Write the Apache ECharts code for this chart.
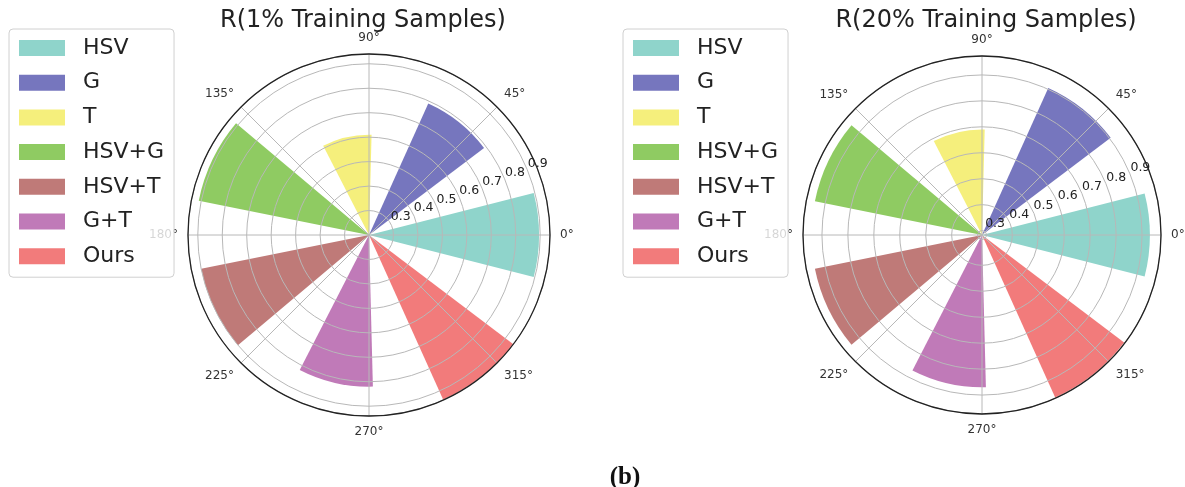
<!DOCTYPE html>
<html><head><meta charset="utf-8">
<script src="https://cdn.jsdelivr.net/npm/echarts@6/dist/echarts.min.js"></script>
<style>html,body{margin:0;padding:0;background:#fff}#c{width:1185px;height:487px}</style>
</head><body><div id="c"></div>
<script>
// ---- data ----
const methods = ['HSV', 'G', 'T', 'HSV+G', 'HSV+T', 'G+T', 'Ours'];
const colors = ['#8fd4cb', '#7676be', '#f5ef7c', '#8fcb62', '#bf7a78', '#c07ab8', '#f27b7b'];
const r1Values = [0.895, 0.79, 0.61, 0.91, 0.90, 0.82, 0.94];
const r20Values = [0.93, 0.905, 0.69, 0.94, 0.94, 0.87, 0.97];
const radialTicks = [0.3, 0.4, 0.5, 0.6, 0.7, 0.8, 0.9];
const angleTicks = [0, 45, 90, 135, 180, 225, 270, 315];
const titles = ['R(1% Training Samples)', 'R(20% Training Samples)'];
const rRange1 = [0.2, 0.94];
const rRange20 = [0.283, 0.973];

const FONT = 'DejaVu Sans';
const polar = [], angleAxis = [], radiusAxis = [], series = [], legend = [], title = [];

function panel(center, radius, range, values, titleText, titleX, legendX, key) {
  const base = polar.length;
  polar.push({ center: center, radius: radius });
  polar.push({ center: center, radius: radius });
  polar.push({ center: center, radius: [21, radius + 21] });
  // bars
  angleAxis.push({ polarIndex: base, type: 'category', data: methods, startAngle: 360 - 360 / 14,
    clockwise: false, boundaryGap: true,
    axisLine: { show: false }, axisTick: { show: false }, axisLabel: { show: false }, splitLine: { show: false } });
  radiusAxis.push({ polarIndex: base, type: 'value', min: range[0], max: range[1], startValue: range[0],
    axisLine: { show: false }, axisTick: { show: false }, axisLabel: { show: false }, splitLine: { show: false } });
  // grid
  angleAxis.push({ polarIndex: base + 1, type: 'value', min: 0, max: 360, interval: 45, startAngle: 0,
    clockwise: false, z: 5,
    axisLine: { lineStyle: { color: '#222', width: 1.3 } },
    axisTick: { show: false },
    axisLabel: { margin: 10, fontSize: 12, color: '#333', fontFamily: FONT,
      formatter: v => angleTicks.indexOf(v) >= 0 ? v + '°' : '' },
    splitLine: { show: true, lineStyle: { color: '#b8b8b8', width: 1 } } });
  radiusAxis.push({ polarIndex: base + 1, type: 'value', min: range[0], max: range[1],
    minInterval: 0.1, maxInterval: 0.1, z: 5,
    axisLine: { show: false }, axisTick: { show: false }, axisLabel: { show: false },
    splitLine: { show: true, lineStyle: { color: '#b8b8b8', width: 1 } } });
  // radial labels
  angleAxis.push({ polarIndex: base + 2, type: 'value', min: 0, max: 360, startAngle: 21,
    clockwise: false, show: false });
  radiusAxis.push({ polarIndex: base + 2, type: 'value', min: range[0], max: range[1],
    minInterval: 0.1, maxInterval: 0.1, z: 6,
    axisLine: { show: false }, axisTick: { show: false }, splitLine: { show: false },
    axisLabel: { show: true, margin: 2, fontSize: 12.5, color: '#222', fontFamily: FONT,
      showMinLabel: false, showMaxLabel: false,
      formatter: v => radialTicks.some(t => Math.abs(t - v) < 1e-6) ? v.toFixed(1) : '' } });
  methods.forEach((m, i) => {
    series.push({ type: 'bar', coordinateSystem: 'polar', polarIndex: base, name: m,
      stack: key, clip: false,
      data: methods.map((_, j) => j === i ? values[i] : '-'),
      barWidth: '55.7%', z: 2,
      itemStyle: { color: colors[i] } });
  });
  legend.push({ left: legendX, top: 29, orient: 'vertical', data: methods, icon: 'rect',
    itemWidth: 46, itemHeight: 16, itemGap: 12.7, padding: [8, 10, 10, 10],
    borderColor: '#d0d0d0', borderWidth: 1, borderRadius: 4,
    backgroundColor: 'rgba(255,255,255,0.8)', selectedMode: false, z: 10,
    textStyle: { fontSize: 22, fontFamily: FONT, color: '#222', lineHeight: 22, padding: [0, 0, 0, 13] } });
  title.push({ text: titleText, left: titleX, top: 4, textAlign: 'center',
    textStyle: { fontSize: 24, fontWeight: 'normal', fontFamily: FONT, color: '#222' } });
}

panel([369, 235], 181, rRange1, r1Values, titles[0], 358, 9, 'p1');
panel([982, 235], 179, rRange20, r20Values, titles[1], 981, 623, 'p20');
title.push({ text: '(b)', left: 620, top: 460, textAlign: 'center',
  textStyle: { fontSize: 25, fontWeight: 'bold', fontFamily: 'Liberation Serif', color: '#111' } });

const chart = echarts.init(document.getElementById('c'), null, { renderer: 'canvas' });
chart.setOption({
  animation: false,
  backgroundColor: '#fff',
  textStyle: { fontFamily: FONT },
  title, legend, polar, angleAxis, radiusAxis, series
});
</script></body></html>
